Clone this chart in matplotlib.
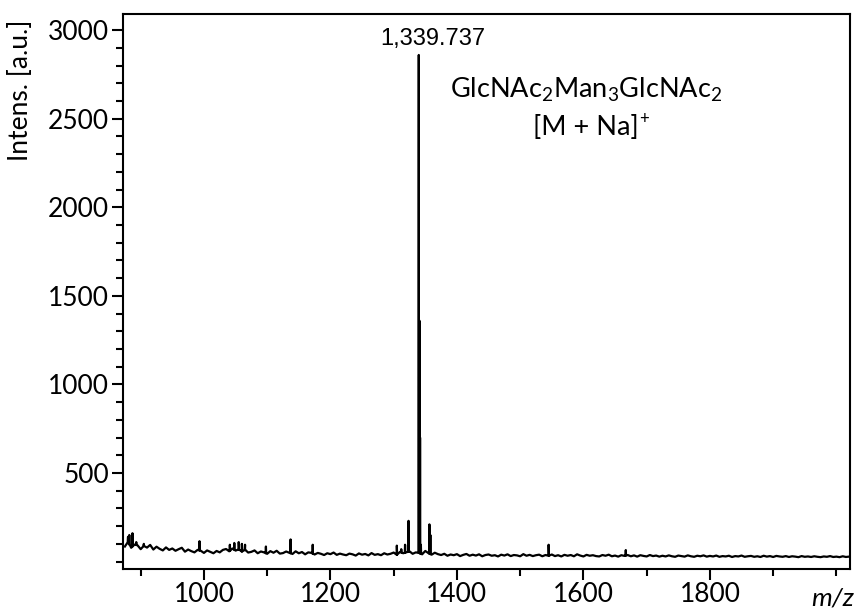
"""
MALDI-TOF spectrum of GlcNAc2Man3GlcNAc2 [M + Na]+
"""
import numpy as np
import matplotlib
matplotlib.use('Agg')
import matplotlib.pyplot as plt

# baseline every 5 m/z, from 875 to 2020
base_start = 875
base_step = 5
base_int = [
    85, 110, 78, 96, 92, 70, 88, 79, 94, 68,
    84, 72, 63, 80, 66, 74, 61, 70, 78, 56,
    68, 59, 52, 66, 61, 49, 63, 55, 47, 60,
    52, 66, 71, 58, 74, 62, 69, 57, 66, 51,
    55, 63, 47, 57, 52, 44, 59, 50, 61, 45,
    48, 57, 50, 43, 58, 47, 54, 41, 52, 49,
    40, 49, 44, 37, 47, 42, 51, 38, 45, 40,
    36, 45, 41, 34, 46, 39, 43, 35, 48, 38,
    42, 36, 47, 40, 44, 51, 39, 55, 47, 52,
    58, 44, 52, 49, 41, 60, 47, 39, 50, 42,
    37, 44, 33, 40, 36, 42, 31, 38, 43, 33,
    39, 34, 41, 30, 37, 40, 33, 36, 29, 39,
    34, 41, 31, 37, 35, 30, 42, 33, 38, 31,
    36, 39, 30, 37, 33, 40, 31, 36, 29, 38,
    33, 37, 30, 41, 34, 29, 38, 33, 36, 31,
    29, 37, 33, 39, 30, 34, 28, 36, 32, 37,
    30, 35, 28, 36, 32, 29, 37, 31, 34, 28,
    33, 29, 35, 30, 27, 34, 31, 28, 35, 30,
    27, 33, 30, 35, 28, 32, 29, 34, 27, 31,
    29, 33, 26, 31, 29, 34, 27, 30, 32, 27,
    30, 26, 33, 28, 31, 26, 32, 29, 27, 31,
    26, 30, 28, 25, 31, 27, 29, 26, 30, 27,
    25, 29, 27, 31, 26, 28, 25, 30, 26, 28,
]

# peaks (m/z, intensity)
peak_mz = [880, 882, 887, 893, 905, 993, 1041, 1048, 1055, 1060, 1065,
           1098, 1137, 1172, 1305, 1312, 1318, 1323.5, 1339.7, 1340.7,
           1341.7, 1343, 1356.5, 1358, 1545, 1667]
peak_int = [140, 150, 160, 110, 100, 115, 95, 105, 110, 100, 95,
            85, 125, 95, 90, 70, 95, 230, 2860, 1360,
            700, 95, 210, 150, 95, 65]

label_mz = 1339.737
label_text = '1,339.737'


def build_spectrum():
    base_mz = base_start + base_step * np.arange(len(base_int))
    mz = list(base_mz)
    inten = list(base_int)
    for m, h in zip(peak_mz, peak_int):
        foot = np.interp(m, base_mz, base_int)
        mz += [m - 0.35, m, m + 0.35]
        inten += [foot, h, foot]
    order = np.argsort(mz)
    return np.array(mz)[order], np.array(inten)[order]


def main():
    mz, inten = build_spectrum()

    plt.rcParams['mathtext.fontset'] = 'custom'
    plt.rcParams['mathtext.rm'] = 'Lato'
    plt.rcParams['mathtext.it'] = 'Lato:italic'

    fig = plt.figure(figsize=(8.6, 6.11), dpi=100)
    ax = fig.add_axes([0.143, 0.0687, 0.845, 0.908])

    ax.plot(mz, inten, color='black', linewidth=1.6)

    ax.set_xlim(872, 2021)
    ax.set_ylim(-42, 3090)

    ax.set_xticks([1000, 1200, 1400, 1600, 1800])
    ax.set_xticks(np.arange(900, 2001, 100), minor=True)
    ax.set_yticks([500, 1000, 1500, 2000, 2500, 3000])
    ax.set_yticks(np.arange(0, 3001, 100), minor=True)

    for s in ax.spines.values():
        s.set_linewidth(1.5)
    ax.tick_params(which='major', direction='out', length=8, width=1.5,
                   labelsize=19)
    ax.tick_params(axis='x', which='major', pad=1)
    ax.tick_params(axis='y', which='major', pad=2)
    ax.tick_params(which='minor', direction='out', length=5, width=1.5)
    for lab in ax.get_xticklabels() + ax.get_yticklabels():
        lab.set_family('Lato')

    ax.set_ylabel('Intens. [a.u.]', fontsize=19, family='Lato')
    ax.yaxis.set_label_coords(-0.124, 0.863)

    ax.text(0.977, -0.052, 'm/z', transform=ax.transAxes, fontsize=19,
            family='Lato', style='italic', ha='center', va='center')

    ax.text(label_mz + 22, 2914, label_text, fontsize=17,
            family='Liberation Sans', ha='center', va='baseline')

    ax.text(1604, 2621, r'GlcNAc$_2$Man$_3$GlcNAc$_2$',
            fontsize=19.5, family='Lato', ha='center', va='baseline')
    t = ax.text(1604, 2407, '[M + Na]', fontsize=19.5, family='Lato',
                ha='center', va='baseline')
    ax.annotate('+', xy=(1, 1), xycoords=t, xytext=(0.5, 3),
                textcoords='offset points', fontsize=12, family='Lato',
                ha='left', va='top')

    fig.savefig('out.png', dpi=100)
    plt.close(fig)


if __name__ == '__main__':
    main()
